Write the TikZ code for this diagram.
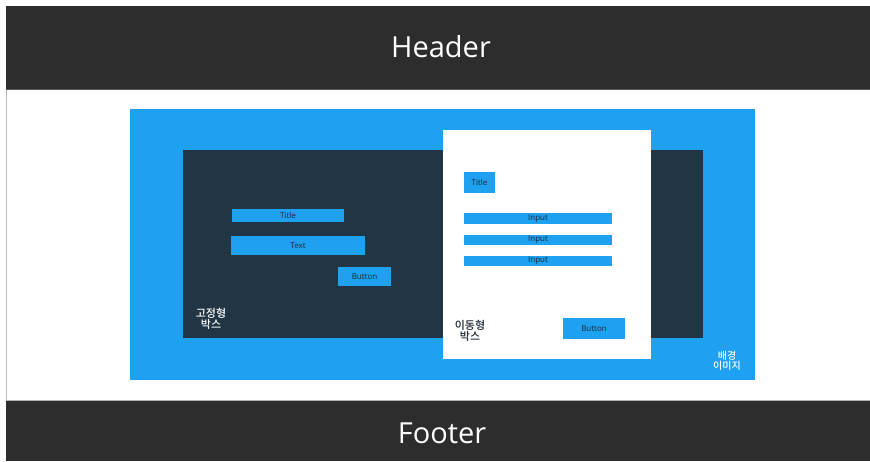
\documentclass[tikz,border=0pt]{standalone}
\usepackage{fontspec}
\setmainfont{Open Sans}
\newfontfamily\kr{Noto Sans CJK KR}[BoldFont={Noto Sans CJK KR Medium}]
\definecolor{bar}{HTML}{2D2D2D}
\definecolor{sky}{HTML}{1EA1F0}
\definecolor{navy}{HTML}{213545}
\definecolor{ink}{HTML}{1B2633}
\tikzset{
  px/.style={x=1pt,y=-1pt},
  band/.style={fill=bar,draw=none},
  chip/.style={fill=sky,draw=none,inner sep=0pt,text=ink,font=\fontsize{8}{8}\selectfont},
  lbl/.style={inner sep=0pt,align=center,font=\kr\bfseries\fontsize{11}{10.5}\selectfont},
}
\begin{document}
\begin{tikzpicture}[px]
\useasboundingbox (0,0) rectangle (870,461);
\fill[white] (0,0) rectangle (870,461);
\draw[gray!50,line width=0.8pt] (6.4,89) -- (6.4,400);
\fill[band] (6,6) rectangle (870,89);
\draw[gray!70!black,line width=1pt] (6,89) -- (870,89);
\node[text=white,font=\fontsize{29}{30}\selectfont] (header) at (441,47) {Header};
\fill[band] (6,400) rectangle (870,461);
\draw[gray!60,line width=0.6pt] (6,400) -- (870,400);
\node[text=white,font=\fontsize{29}{30}\selectfont] (footer) at (442,433) {Footer};
% background image
\fill[sky] (130,109) rectangle (755,380);
% fixed box
\fill[navy] (183,150) rectangle (703,338);
% moving box
\fill[white] (443,130) rectangle (651,359);
% left contents
\node[chip,minimum width=112pt,minimum height=13pt] (ltitle) at (288,215.5) {Title};
\node[chip,minimum width=134pt,minimum height=19pt] (ltext) at (298,245.5) {Text};
\node[chip,minimum width=53pt,minimum height=19pt] (lbtn) at (364.5,276.5) {Button};
\node[lbl,text=white] (fixed) at (211,319) {고정형\\박스};
% right contents
\node[chip,minimum width=31pt,minimum height=21pt] (rtitle) at (479.5,182.5) {Title};
\node[chip,minimum width=148pt,minimum height=11pt] (in1) at (538,218.5) {Input};
\node[chip,minimum width=148pt,minimum height=10pt] (in2) at (538,240) {Input};
\node[chip,minimum width=148pt,minimum height=10pt] (in3) at (538,261) {Input};
\node[chip,minimum width=62pt,minimum height=21pt] (rbtn) at (594,328.5) {Button};
\node[lbl,text=ink] (moving) at (470,331) {이동형\\박스};
\node[lbl,text=white,font=\kr\bfseries\fontsize{10}{9.5}\selectfont] (bgimg) at (727,361) {배경\\이미지};
\end{tikzpicture}
\end{document}
